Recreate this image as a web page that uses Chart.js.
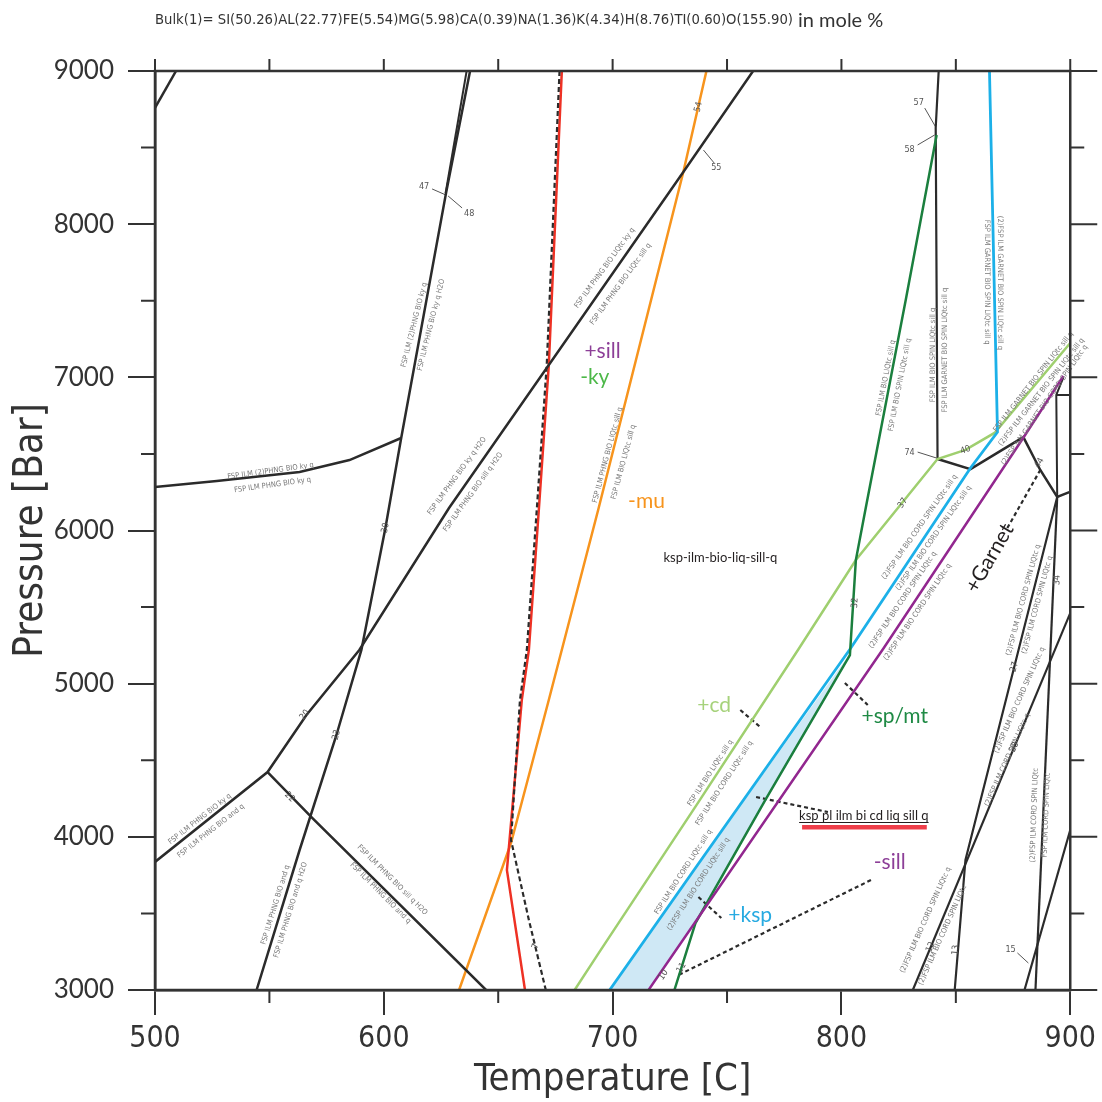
<!doctype html>
<html lang="en">
<head>
<meta charset="utf-8">
<title>Pseudosection P-T</title>
<style>
  html, body { margin: 0; padding: 0; background: #fff; }
  #caixa { width: 1102px; height: 1102px; }
</style>
</head>
<body>
<div id="caixa"><canvas id="grafico" width="1102" height="1102"></canvas></div>
<script src="https://cdn.jsdelivr.net/npm/chart.js"></script>
<script>
// axis ticks
const tempTicks = [500, 600, 700, 800, 900];
const pressTicks = [3000, 4000, 5000, 6000, 7000, 8000, 9000];

// phase boundaries, [T (C), P (bar)]
const cornerLine = [[500, 8760], [509.2, 9000]];
const line47 = [[637.7, 9000], [627.2, 8203], [607.6, 6604], [600.7, 6016], [590.2, 5220], [579.3, 4665], [563.2, 3914], [544.4, 3000]];
const line48 = [[636.2, 9000], [627.0, 8203]];
const kyCurve = [[500, 6284], [527.0, 6323], [563.2, 6382], [585.0, 6460], [607.6, 6604]];
const line20 = [[500, 3836], [549.2, 4423], [566.2, 4795], [589.3, 5220], [628.5, 6147], [672.1, 7080], [730.9, 8341], [761.4, 9000]];
const line22 = [[549.2, 4423], [568.8, 4122], [644.7, 3000]];
const redLine = [[677.8, 9000], [672.1, 7080], [667.8, 6147], [663.4, 5220], [660.3, 4893], [653.8, 3783], [661.7, 3000]];
const line7 = [[676.8, 9000], [671.2, 7080], [666.9, 6147], [662.5, 5220], [659.5, 4893], [655.6, 3979], [663.4, 3457], [670.8, 3000]];
const muLine = [[741.0, 9000], [730.9, 8341], [693.9, 6147], [672.1, 4893], [655.6, 3960], [632.9, 3000]];
const cdLine = [[683.4, 3000], [693.9, 3241], [737.5, 4227], [781.0, 5220], [806.3, 5807], [826.8, 6186], [842.0, 6467], [854.2, 6526], [866.9, 6637], [900, 7224]];
const kspLine = [[698.7, 3000], [736.8, 3810], [804.1, 5233], [856.4, 6408], [868.2, 6643], [864.7, 9000]];
const spLine = [[841.6, 8582], [828.1, 7505], [810.7, 6153], [806.3, 5807], [803.7, 5187], [766.7, 4240], [736.2, 3437], [727.0, 3000]];
const sillLine = [[715.7, 3000], [818.5, 5233], [880.0, 6617], [897.0, 7009]];
const line74 = [[842.5, 9000], [841.2, 8628], [842.0, 6467]];
const line44 = [[842.0, 6467], [856.4, 6401], [879.5, 6610], [886.9, 6395], [894.3, 6219], [899.6, 6251]];
const line27 = [[894.3, 6219], [854.2, 3849], [849.5, 3000]];
const line34 = [[894.3, 6219], [884.8, 3000]];
const lineTop = [[897.0, 7000], [893.9, 6885], [894.3, 6219]];
const lineFlat = [[893.9, 6885], [900, 6885]];
const line12 = [[900, 5461], [831.2, 3000]];
const line15 = [[900, 4045], [880.0, 3000]];
const kspField = [[698.7, 3000], [736.8, 3810], [803.9, 5200], [766.7, 4240], [736.2, 3437], [715.7, 3000]];
const redBar = [[782.8, 4062], [837.3, 4062]];

// dashed leaders
const cdLeader = [[755.8, 4828], [764.5, 4717]];
const spLeader = [[801.5, 5004], [811.5, 4861]];
const fieldLeader = [[762.7, 4260], [794.1, 4162]];
const kspLeader = [[737.5, 3607], [747.5, 3470]];
const sillLeader = [[812.9, 3718], [728.8, 3098]];
const garnetLeader = [[872.5, 6016], [886.9, 6395]];

// thin number leaders
const numLeaders = [
  [[621.1, 8230], [627.2, 8190]],
  [[628.1, 8184], [634.2, 8106]],
  [[739.7, 8484], [744.4, 8399]],
  [[836.4, 8758], [841.2, 8634]],
  [[833.3, 8517], [840.7, 8582]],
  [[833.3, 6512], [841.6, 6473]],
  [[876.9, 3242], [881.7, 3176]]
];

// field labels: text, T, P, colour, size, angle
const fieldLabels = [
  ['+sill', 695.6, 7172, '#8d3f98', 21, 0],
  ['-ky', 692.2, 7002, '#4cb848', 21, 0],
  ['-mu', 714.8, 6193, '#f7941d', 21, 0],
  ['ksp-ilm-bio-liq-sill-q', 747.1, 5820, '#231f20', 13, 0],
  ['ksp pl ilm bi cd liq sill q', 809.8, 4136, '#231f20', 13, 0],
  ['+cd', 744.4, 4861, '#a6d27b', 21, 0],
  ['+sp/mt', 823.3, 4789, '#1f8a45', 21, 0],
  ['-sill', 821.1, 3836, '#8d3f98', 21, 0],
  ['+ksp', 760.1, 3490, '#27aae1', 21, 0],
  ['+Garnet', 864.7, 5820, '#231f20', 21, -60]
];

const numLabels = [
  ['47', 617.6, 8243, 0], ['48', 637.3, 8066, 0], ['54', 737.5, 8765, -76], ['55', 745.3, 8367, 0],
  ['57', 833.8, 8791, 0], ['58', 829.8, 8484, 0], ['74', 829.8, 6506, 0], ['40', 854.2, 6526, -20],
  ['37', 826.8, 6179, -55], ['32', 805.9, 5527, -86], ['20', 565.4, 4795, -50], ['23', 579.3, 4665, -76],
  ['22', 558.8, 4260, 45], ['30', 600.7, 6016, -78], ['7', 666.4, 3287, -75], ['10', 722.2, 3098, -55],
  ['11', 730.1, 3144, -60], ['12', 839.0, 3280, -66], ['13', 849.9, 3261, -85], ['15', 873.9, 3261, 0],
  ['27', 875.6, 5109, -75], ['28', 875.6, 4587, -66], ['34', 894.3, 5677, -86], ['44', 886.5, 6441, -60]
];

const lineLabels = [
  ['FSP ILM (2)PHNG BIO ky q', 613.3, 7342, -76], ['FSP ILM PHNG BIO ky q H2O', 620.7, 7342, -76],
  ['FSP ILM (2)PHNG BIO ky q', 550.5, 6388, -8], ['FSP ILM PHNG BIO ky q', 551.4, 6297, -8],
  ['FSP ILM PHNG BIO LIQtc ky q', 696.5, 7714, -54], ['FSP ILM PHNG BIO LIQtc sill q', 703.5, 7609, -54],
  ['FSP ILM PHNG BIO ky q H2O', 632.0, 6356, -54], ['FSP ILM PHNG BIO sill q H2O', 639.0, 6251, -54],
  ['FSP ILM PHNG BIO LIQtc sill q', 697.8, 6493, -75], ['FSP ILM BIO LIQtc sill q', 704.8, 6447, -75],
  ['FSP ILM PHNG BIO ky q', 519.6, 4116, -38], ['FSP ILM PHNG BIO and q', 524.4, 4038, -38],
  ['FSP ILM PHNG BIO and q', 552.7, 3555, -73], ['FSP ILM PHNG BIO and q H2O', 559.3, 3522, -73],
  ['FSP ILM PHNG BIO sill q H2O', 603.7, 3718, 45], ['FSP ILM PHNG BIO and q', 598.5, 3633, 45],
  ['FSP ILM BIO LIQtc sill q', 819.4, 6996, -79], ['FSP ILM BIO SPIN LIQtc sill q', 825.5, 6950, -79],
  ['FSP ILM BIO SPIN LIQtc sill q', 839.9, 7146, -90], ['FSP ILM GARNET BIO SPIN LIQtc sill q', 845.1, 7178, -90],
  ['(2)FSP ILM GARNET BIO SPIN LIQtc sill q', 869.1, 7616, 90], ['FSP ILM GARNET BIO SPIN LIQtc sill q', 863.4, 7622, 90],
  ['(2)FSP ILM BIO CORD SPIN LIQtc sill q', 834.2, 6023, -55], ['(2)FSP ILM BIO CORD SPIN LIQtc sill q', 840.3, 5951, -55],
  ['(2)FSP ILM BIO CORD SPIN LIQtc q', 826.8, 5546, -56], ['(2)FSP ILM BIO CORD SPIN LIQtc q', 833.3, 5468, -56],
  ['FSP ILM GARNET BIO SPIN LIQtc sill q', 883.9, 6970, -52], ['(2)FSP ILM GARNET BIO SPIN LIQtc sill q', 887.4, 6904, -52],
  ['(2)FSP ILM GARNET BIO CORD SPIN LIQtc q', 888.7, 6819, -55],
  ['FSP ILM BIO LIQtc sill q', 742.7, 4417, -57], ['FSP ILM BIO CORD LIQtc sill q', 748.8, 4351, -57],
  ['FSP ILM BIO CORD LIQtc sill q', 730.9, 3770, -57], ['(2)FSP ILM BIO CORD LIQtc sill q', 737.5, 3692, -57],
  ['(2)FSP ILM BIO CORD SPIN LIQtc q', 836.8, 3457, -66], ['(2)FSP ILM BIO CORD SPIN LIQtc', 844.2, 3359, -66],
  ['(2)FSP ILM CORD SPIN LIQtc q', 872.5, 4502, -66], ['(2)FSP ILM BIO CORD SPIN LIQtc q', 877.8, 4893, -66],
  ['(2)FSP ILM CORD SPIN LIQtc', 884.3, 4142, -88], ['FSP ILM CORD SPIN LIQtc', 889.5, 4142, -88],
  ['(2)FSP ILM BIO CORD SPIN LIQtc q', 879.5, 5546, -75], ['(2)FSP ILM CORD SPIN LIQtc q', 885.6, 5514, -75]
];

const bulkText = 'Bulk(1)= SI(50.26)AL(22.77)FE(5.54)MG(5.98)CA(0.39)NA(1.36)K(4.34)H(8.76)TI(0.60)O(155.90)';

const NARROW = '"Liberation Sans Narrow", "DejaVu Sans Condensed", "Liberation Sans", sans-serif';
const LABEL = 'Lato, "Open Sans", sans-serif';
const INK = '#2b2b2b';

const pts = arr => arr.map(([t, p]) => ({ x: t, y: p }));

function lineSet(arr, color, width, dash) {
  return {
    data: pts(arr), showLine: true, pointRadius: 0, borderColor: color,
    borderWidth: width, borderDash: dash || [], fill: false, tension: 0
  };
}

const datasets = [
  lineSet(redBar, '#ef3e4a', 4.5),
  lineSet(cornerLine, INK, 2.5),
  lineSet(line47, INK, 2.5),
  lineSet(line48, INK, 2),
  lineSet(kyCurve, INK, 2.5),
  lineSet(line20, INK, 2.5),
  lineSet(line22, INK, 2.5),
  lineSet(line7, INK, 2.2, [5, 3]),
  lineSet(redLine, '#ee3124', 2.5),
  lineSet(muLine, '#f7941d', 2.5),
  lineSet(sillLine, '#92278f', 2.5),
  lineSet(spLine, '#1b7f3e', 2.5),
  lineSet(kspLine, '#1cb0e8', 2.8),
  lineSet(cdLine, '#9fcf6f', 2.5),
  lineSet(line74, INK, 2.2),
  lineSet(line44, INK, 2.5),
  lineSet(line27, INK, 2.2),
  lineSet(line34, INK, 2.2),
  lineSet(lineTop, INK, 2),
  lineSet(lineFlat, INK, 2),
  lineSet(line12, INK, 2.2),
  lineSet(line15, INK, 2.2),
  lineSet(cdLeader, INK, 2.2, [4, 3]),
  lineSet(spLeader, INK, 2.2, [4, 3]),
  lineSet(fieldLeader, INK, 2.2, [4, 3]),
  lineSet(kspLeader, INK, 2.2, [4, 3]),
  lineSet(sillLeader, INK, 2.2, [4, 3]),
  lineSet(garnetLeader, INK, 2.2, [4, 3]),
  ...numLeaders.map(l => lineSet(l, '#555', 1)),
  Object.assign(lineSet(kspField, 'rgba(0,0,0,0)', 0), { fill: 'shape', backgroundColor: '#cfe8f5' })
];

function textAt(ctx, s, px, py, angle, font, color) {
  ctx.save();
  ctx.translate(px, py);
  ctx.rotate(angle * Math.PI / 180);
  ctx.font = font;
  ctx.fillStyle = color;
  ctx.textAlign = 'center';
  ctx.textBaseline = 'middle';
  ctx.fillText(s, 0, 0);
  ctx.restore();
}

const annotations = {
  id: 'annotations',
  afterDatasetsDraw(chart) {
    const { ctx, scales: { x, y } } = chart;
    lineLabels.forEach(([s, t, p, a]) =>
      textAt(ctx, s, x.getPixelForValue(t), y.getPixelForValue(p), a, '7.5px ' + NARROW, '#7a7a7a'));
    numLabels.forEach(([s, t, p, a]) =>
      textAt(ctx, s, x.getPixelForValue(t), y.getPixelForValue(p), a, '9px ' + NARROW, '#555'));
    fieldLabels.forEach(([s, t, p, c, size, a]) =>
      textAt(ctx, s, x.getPixelForValue(t), y.getPixelForValue(p), a, size + 'px ' + LABEL, c));
    // underline under the highlighted field name
    const ux = x.getPixelForValue(809.8), uy = y.getPixelForValue(4136) + 6.5;
    ctx.save();
    ctx.font = '13px ' + LABEL;
    const w = ctx.measureText('ksp pl ilm bi cd liq sill q').width;
    ctx.strokeStyle = '#231f20';
    ctx.lineWidth = 1;
    ctx.beginPath();
    ctx.moveTo(ux - w / 2, uy); ctx.lineTo(ux + w / 2, uy);
    ctx.stroke();
    ctx.restore();
  }
};

const frame = {
  id: 'frame',
  afterDraw(chart) {
    const { ctx, chartArea: a, scales: { x, y } } = chart;
    ctx.save();
    ctx.strokeStyle = '#333';
    ctx.lineWidth = 2.5;
    ctx.strokeRect(a.left, a.top, a.right - a.left, a.bottom - a.top);
    ctx.lineWidth = 2;
    ctx.beginPath();
    for (let t = 500; t <= 900; t += 50) {
      const px = x.getPixelForValue(t);
      const major = t % 100 === 0;
      if (!major) { ctx.moveTo(px, a.bottom); ctx.lineTo(px, a.bottom + 13); }
      ctx.moveTo(px, a.top); ctx.lineTo(px, a.top - 12);
    }
    for (let p = 3000; p <= 9000; p += 500) {
      const py = y.getPixelForValue(p);
      const major = p % 1000 === 0;
      if (!major) { ctx.moveTo(a.left, py); ctx.lineTo(a.left - 14, py); }
      ctx.moveTo(a.right, py); ctx.lineTo(a.right + (major ? 27 : 14), py);
    }
    ctx.stroke();
    // bulk composition header
    ctx.fillStyle = '#333';
    ctx.textBaseline = 'alphabetic';
    ctx.font = '14.7px ' + NARROW;
    ctx.fillText(bulkText, 155, 24);
    const bw = ctx.measureText(bulkText).width;
    ctx.font = '20px ' + LABEL;
    ctx.fillText('in mole %', 155 + bw + 5, 27);
    ctx.restore();
  }
};

new Chart(document.getElementById('grafico'), {
  type: 'scatter',
  data: { datasets },
  options: {
    responsive: false,
    animation: false,
    events: [],
    layout: { padding: { top: 71, right: 29, left: 0, bottom: 0 } },
    plugins: { legend: { display: false }, tooltip: { enabled: false }, title: { display: false } },
    scales: {
      x: {
        type: 'linear', position: 'bottom', min: 500, max: 900,
        afterBuildTicks: s => { s.ticks = tempTicks.map(v => ({ value: v })); },
        afterFit: s => { s.height = 112; },
        ticks: { font: { family: NARROW, size: 30 }, color: '#333', padding: 6, maxRotation: 0,
                 callback: v => String(v) },
        grid: { drawOnChartArea: false, drawTicks: true, tickLength: 25, color: '#333', lineWidth: 2 },
        border: { display: true, color: '#333', width: 2.5 },
        title: { display: true, text: 'Temperature [C]', color: '#333',
                 font: { family: NARROW, size: 38, lineHeight: 1 }, padding: { top: 0, bottom: 3 } }
      },
      y: {
        type: 'linear', position: 'left', min: 3000, max: 9000,
        afterBuildTicks: s => { s.ticks = pressTicks.map(v => ({ value: v })); },
        afterFit: s => { s.width = 155; },
        ticks: { font: { family: LABEL, size: 26 }, color: '#333', padding: 14,
                 callback: v => String(v) },
        grid: { drawOnChartArea: false, drawTicks: true, tickLength: 27, color: '#333', lineWidth: 2 },
        border: { display: true, color: '#333', width: 2.5 },
        title: { display: true, text: 'Pressure [Bar]', color: '#333',
                 font: { family: NARROW, size: 40, lineHeight: 1 }, padding: { top: 12, bottom: 0 } }
      }
    }
  },
  plugins: [annotations, frame]
});
</script>
</body>
</html>
